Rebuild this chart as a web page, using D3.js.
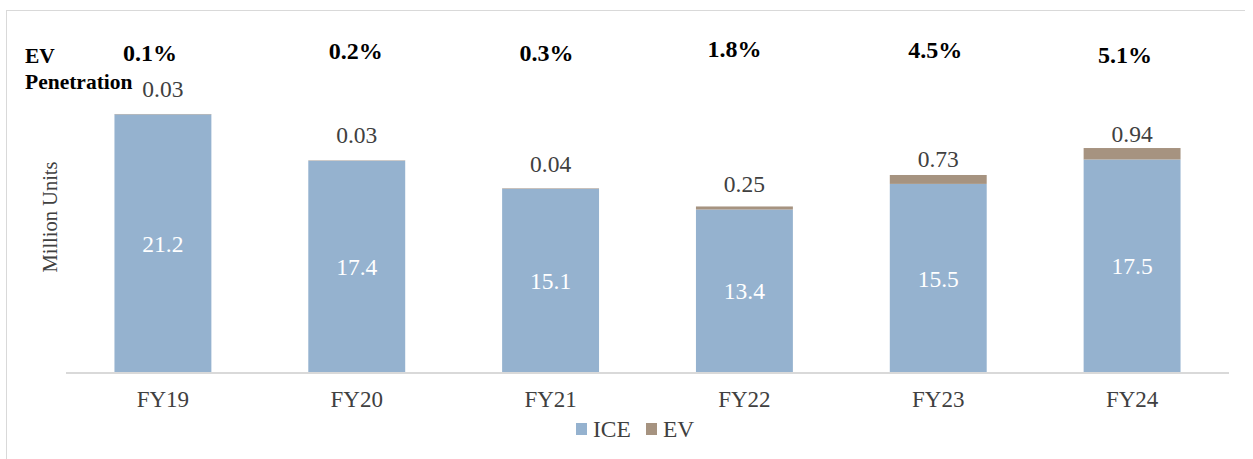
<!DOCTYPE html>
<html><head><meta charset="utf-8">
<script src="https://cdn.jsdelivr.net/npm/d3@7"></script>
<style>body{margin:0;background:#fff}svg{display:block}svg text{font-family:"Liberation Serif","Times New Roman","DejaVu Serif",serif}</style>
</head><body><svg id="c" width="1253" height="459"></svg>
<script>
const categories = ["FY19","FY20","FY21","FY22","FY23","FY24"];
const iceValues = [21.2,17.4,15.1,13.4,15.5,17.5];
const evValues = [0.03,0.03,0.04,0.25,0.73,0.94];
const penetration = ["0.1%","0.2%","0.3%","1.8%","4.5%","5.1%"];
const seriesNames = ["ICE","EV"];
const colors = {ICE:"#95b2cf", EV:"#a69380"};
// layout nudges for the free-floating penetration labels (pixels)
const penNudge = [[-13,1],[-1,-1],[-4,1],[-10,-3],[-3,-2],[-7,3]];

const svg = d3.select("#c");
const left = 66, right = 1229, base = 373;
svg.append("line").attr("x1",6.5).attr("x2",6.5).attr("y1",10).attr("y2",459).attr("stroke","#d9d9d9");
svg.append("line").attr("x1",6).attr("x2",1245).attr("y1",10.5).attr("y2",10.5).attr("stroke","#d9d9d9");

const x = d3.scaleBand().domain(categories).range([left,right]).paddingInner(0.5).paddingOuter(0.25);
const y = d3.scaleLinear().domain([0,25]).range([base, base-12.2*25]);

const data = categories.map((c,i)=>({cat:c, i, ice:iceValues[i], ev:evValues[i], pen:penetration[i]}));
const stack = d3.stack().keys(["ice","ev"])(data);

svg.append("g").selectAll("g").data(stack).join("g")
  .attr("fill",(d,i)=>colors[seriesNames[i]])
  .selectAll("rect").data(d=>d).join("rect")
  .attr("x",d=>x(d.data.cat)).attr("width",x.bandwidth())
  .attr("y",d=>y(d[1])).attr("height",d=>y(d[0])-y(d[1]));

const xa = svg.append("g").attr("transform",`translate(0,${base})`).call(d3.axisBottom(x).tickSize(0).tickPadding(18));
xa.select(".domain").attr("stroke","#d9d9d9").attr("stroke-width",2).attr("d",`M${left},0H${right}`);
xa.selectAll("text").attr("font-family",null).attr("font-size",23).attr("fill","#404040");

svg.append("g").selectAll("text").data(data).join("text")
  .attr("x",d=>x(d.cat)+x.bandwidth()/2).attr("y",d=>y(d.ice/2)).attr("dy","0.35em")
  .attr("text-anchor","middle").attr("font-size",23.5).attr("fill","#fff")
  .text(d=>d.ice.toFixed(1));
svg.append("g").selectAll("text").data(data).join("text")
  .attr("x",d=>x(d.cat)+x.bandwidth()/2).attr("y",d=>y(d.ice)-25.5).attr("dy","0.35em")
  .attr("text-anchor","middle").attr("font-size",23.5).attr("fill","#404040")
  .text(d=>d.ev.toFixed(2));
svg.append("g").selectAll("text").data(data).join("text")
  .attr("x",d=>x(d.cat)+x.bandwidth()/2+penNudge[d.i][0]).attr("y",d=>52+penNudge[d.i][1]).attr("dy","0.35em")
  .attr("text-anchor","middle").attr("font-size",24).attr("font-weight","bold").attr("fill","#000")
  .text(d=>d.pen);
svg.append("text").attr("x",25).attr("y",63).attr("font-size",21.5).attr("font-weight","bold").text("EV");
svg.append("text").attr("x",25).attr("y",89).attr("font-size",21.5).attr("font-weight","bold").text("Penetration");

svg.append("text").attr("transform","translate(57,217) rotate(-90)").attr("text-anchor","middle")
  .attr("font-size",20.5).attr("fill","#404040").text("Million Units");

const lg = svg.append("g").attr("transform","translate(576,429)");
seriesNames.forEach((s,i)=>{
  const g = lg.append("g").attr("transform",`translate(${i*70},0)`);
  g.append("rect").attr("x",0).attr("y",-6).attr("width",11).attr("height",12).attr("fill",colors[s]);
  g.append("text").attr("x",17).attr("y",8).attr("font-size",23.5).attr("fill","#404040").text(s);
});
</script></body></html>
